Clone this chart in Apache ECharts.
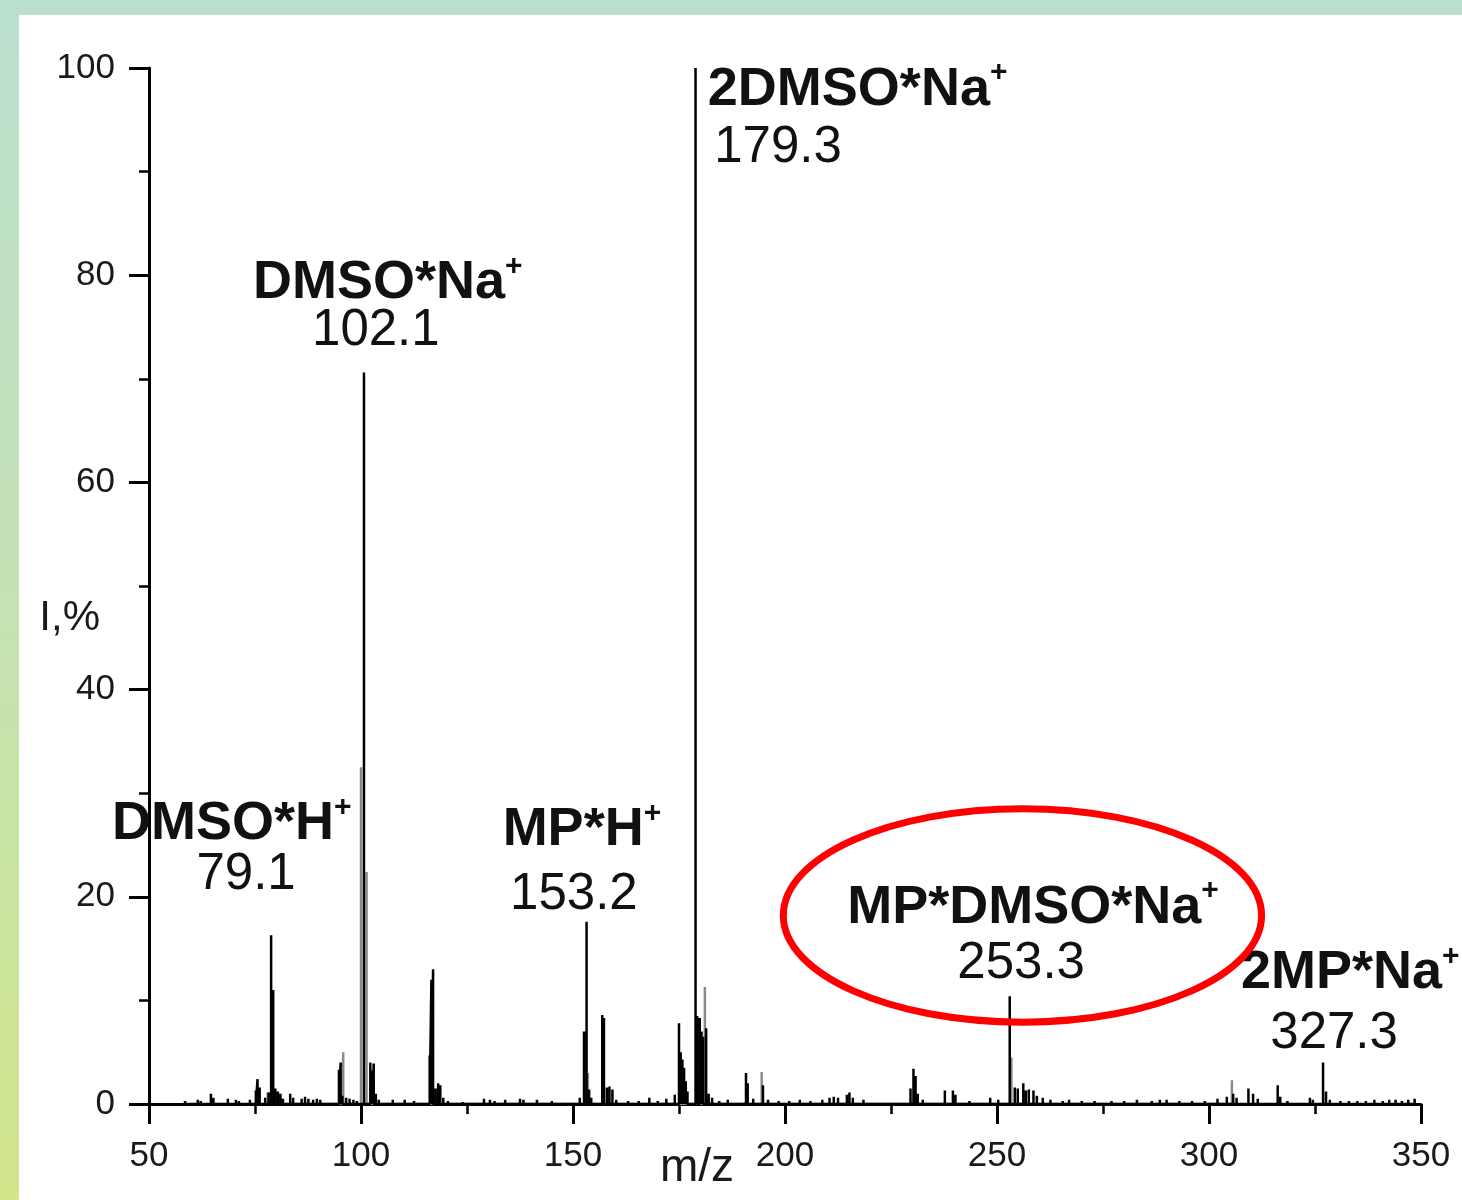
<!DOCTYPE html>
<html>
<head>
<meta charset="utf-8">
<script src="https://cdn.jsdelivr.net/npm/echarts@6/dist/echarts.min.js"></script>
<style>
  html, body {
    margin: 0;
    padding: 0;
    width: 1462px;
    height: 1200px;
    overflow: hidden;
    background: linear-gradient(to bottom, #bbdfcf 0%, #c4e2b4 50%, #d2e68b 100%);
  }
  #main {
    position: absolute;
    left: 19px;
    top: 15px;
    width: 1443px;
    height: 1185px;
    background: #fff;
  }
</style>
</head>
<body>
<div id="main"></div>
<script>
// black sticks [m/z, I %]
const blackPeaks = [
  [58.5, 0.3], [61.5, 0.4], [62.2, 0.3], [64.6, 1.0], [65.2, 0.6], [68.6, 0.5], [70.5, 0.4], [71.2, 0.3], [73.8, 0.4],
  [75.2, 1.3], [75.6, 2.4], [76.1, 1.6], [77.4, 0.6], [78.2, 1.1], [78.8, 16.3], [79.3, 11.0], [79.8, 1.5], [80.4, 1.2],
  [81.0, 1.0], [81.6, 0.5], [83.3, 1.0], [84.0, 0.6], [86.0, 0.5], [86.8, 0.7], [87.6, 0.5], [88.7, 0.4], [89.6, 0.5], [90.4, 0.4],
  [94.8, 3.3], [95.2, 4.0], [95.6, 0.8], [96.5, 0.6], [97.3, 0.5], [98.2, 0.4], [99.0, 0.3],
  [100.7, 70.6], [102.2, 4.0], [102.6, 3.2], [103.0, 3.9], [103.5, 1.0], [104.2, 0.4],
  [107.5, 0.4], [110.3, 0.4], [112.5, 0.3],
  [116.2, 4.7], [116.6, 12.0], [117.0, 13.0], [117.6, 1.5], [118.2, 2.0], [118.7, 1.8], [119.4, 0.6], [120.5, 0.3],
  [124.0, 0.2], [129.0, 0.5], [130.4, 0.4], [131.5, 0.3], [134.0, 0.4], [137.5, 0.5], [138.3, 0.4], [141.5, 0.4], [145.0, 0.3],
  [151.6, 0.6], [152.6, 7.0], [153.2, 17.6], [153.8, 1.4], [154.3, 0.6], [156.9, 8.6], [157.3, 8.3], [158.0, 1.6],
  [158.6, 1.7], [159.3, 1.4], [160.2, 0.4], [163.0, 0.3], [165.5, 0.3], [168.0, 0.6], [170.0, 0.3], [172.0, 0.5], [174.0, 0.9],
  [175.0, 7.8], [175.4, 5.0], [175.8, 4.3], [176.2, 3.5], [176.6, 2.2], [177.0, 1.2],
  [178.9, 100], [179.3, 8.5], [179.9, 8.3], [180.3, 7.0], [180.7, 6.5], [181.4, 7.3], [182.0, 1.0], [182.8, 0.6], [184.5, 0.3], [186.5, 0.4],
  [190.8, 3.0], [191.2, 2.0], [192.5, 0.5], [194.8, 1.8], [196.0, 0.4], [198.5, 0.3], [201.0, 0.3], [203.5, 0.4], [206.0, 0.3],
  [208.8, 0.4], [210.5, 0.6], [211.5, 0.7], [212.5, 0.6], [214.6, 0.9], [215.2, 1.1], [216.0, 0.6], [218.5, 0.4],
  [229.6, 1.5], [230.3, 3.4], [230.8, 2.7], [231.3, 1.0], [232.5, 0.4], [237.7, 1.3], [239.6, 1.3], [240.2, 0.9], [243.5, 0.3],
  [248.4, 0.6], [250.3, 0.4], [253.0, 10.4], [254.2, 1.6], [254.9, 1.5], [256.2, 2.0], [256.8, 1.3], [257.5, 1.4],
  [258.6, 1.3], [259.4, 0.8], [260.8, 0.6], [262.6, 0.4], [265.5, 0.3], [267.0, 0.4], [270.0, 0.3], [273.0, 0.3], [277.0, 0.3],
  [280.0, 0.3], [283.0, 0.4], [286.5, 0.3], [288.4, 0.4], [290.0, 0.4], [293.0, 0.3], [296.0, 0.3], [299.0, 0.3],
  [302.0, 0.5], [304.2, 0.7], [305.7, 1.0], [306.5, 0.6], [309.3, 1.5], [310.4, 1.0], [311.5, 0.5], [316.2, 1.8], [316.8, 0.7],
  [318.5, 0.3], [323.8, 0.6], [324.5, 0.4], [326.9, 4.0], [327.6, 1.2], [328.5, 0.4], [331.0, 0.3], [333.0, 0.3], [335.0, 0.3],
  [337.0, 0.3], [339.0, 0.4], [341.0, 0.3], [342.5, 0.4], [344.0, 0.4], [345.5, 0.3], [347.0, 0.4], [348.5, 0.5]
];
// grey sticks (second trace)
const greyPeaks = [
  [78.0, 1.1], [95.8, 5.0], [100.0, 32.5], [101.3, 22.4], [116.4, 3.8], [153.5, 3.0],
  [181.1, 11.3], [194.5, 3.1], [253.4, 4.5], [305.4, 2.3]
];

// peak annotations: ion names and m/z values, each with its own anchor (data units)
const ionNames = ['DMSO*H', 'DMSO*Na', '2DMSO*Na', 'MP*H', 'MP*DMSO*Na', '2MP*Na'];
const ionNamePos = [[69.5, 27.0], [106.3, 79.2], [181.8, 97.9], [152.1, 26.4], [258.5, 18.9], [333.3, 12.6]];
const ionValues = ['79.1', '102.1', '179.3', '153.2', '253.3', '327.3'];
const ionValuePos = [[72.9, 22.1], [103.5, 74.6], [183.3, 92.3], [150.2, 20.2], [255.7, 13.5], [329.5, 6.8]];
const ionAlign = ['center', 'center', 'left', 'center', 'center', 'center'];

// highlight ellipse (data units)
const ellipseCenter = [256.0, 18.2];
const ellipseRadii = [56.4, 10.3];

const xTicks = [50, 350, 50];
const yTicks = [0, 100, 20];

const FONT = '"Liberation Sans", Arial, sans-serif';

function sticks(list) {
  const out = [];
  list.slice().sort((a, b) => a[0] - b[0]).forEach((p) => {
    out.push([p[0], 0], [p[0], p[1]], [p[0], 0]);
  });
  return out;
}

const chart = echarts.init(document.getElementById('main'));

const nameData = ionNamePos.map((p, i) => ({
  value: p,
  label: { align: ionAlign[i], formatter: '{n|' + ionNames[i] + '}{s|+}' }
}));
const valueData = ionValuePos.map((p, i) => ({
  value: p,
  label: { align: ionAlign[i], formatter: ionValues[i] }
}));

chart.setOption({
  animation: false,
  grid: { left: 130, right: 41, top: 53, bottom: 96, outerBoundsMode: 'none', containLabel: false },
  xAxis: {
    type: 'value',
    min: xTicks[0], max: xTicks[1], interval: xTicks[2],
    name: 'm/z',
    nameLocation: 'middle',
    nameGap: 41,
    nameMoveOverlap: false,
    nameTextStyle: { fontFamily: FONT, fontSize: 46, color: '#1a1a1a', padding: [0, 176, 0, 0] },
    axisLine: { lineStyle: { color: '#000', width: 3 } },
    axisTick: { show: true, inside: false, length: 20, lineStyle: { color: '#000', width: 3 } },
    minorTick: { show: true, splitNumber: 2, length: 10, lineStyle: { color: '#000', width: 2.5 } },
    axisLabel: { fontFamily: FONT, fontSize: 35, color: '#1a1a1a', margin: 35 },
    splitLine: { show: false }
  },
  yAxis: {
    type: 'value',
    min: yTicks[0], max: yTicks[1], interval: yTicks[2],
    name: '\nI,%',
    nameLocation: 'middle',
    nameRotate: 0,
    nameGap: 49,
    nameMoveOverlap: false,
    nameTextStyle: { fontFamily: FONT, fontSize: 42, lineHeight: 64, color: '#1a1a1a' },
    axisLine: { show: true, lineStyle: { color: '#000', width: 3 } },
    axisTick: { show: true, inside: false, length: 20, lineStyle: { color: '#000', width: 3 } },
    minorTick: { show: true, splitNumber: 2, length: 10, lineStyle: { color: '#000', width: 2.5 } },
    axisLabel: { fontFamily: FONT, fontSize: 35, color: '#1a1a1a', margin: 34 },
    splitLine: { show: false }
  },
  series: [
    {
      type: 'line',
      data: sticks(greyPeaks),
      symbol: 'none',
      lineStyle: { color: '#8a8a8a', width: 2.5 },
      z: 2
    },
    {
      type: 'line',
      data: sticks(blackPeaks),
      symbol: 'none',
      lineStyle: { color: '#000', width: 2.5 },
      z: 3
    },
    {
      type: 'scatter',
      data: nameData,
      symbol: 'circle',
      symbolSize: 0,
      itemStyle: { color: '#000', opacity: 1 },
      z: 5,
      label: {
        show: true,
        position: 'inside',
        color: '#111',
        opacity: 1,
        rich: {
          n: { fontFamily: FONT, fontSize: 54, fontWeight: 'bold', lineHeight: 64, color: '#111' },
          s: { fontFamily: FONT, fontSize: 30, fontWeight: 'bold', lineHeight: 10, verticalAlign: 'top', color: '#111' }
        }
      }
    },
    {
      type: 'scatter',
      data: valueData,
      symbol: 'circle',
      symbolSize: 0,
      itemStyle: { color: '#000', opacity: 1 },
      z: 5,
      label: {
        show: true,
        position: 'inside',
        color: '#111',
        opacity: 1,
        fontFamily: FONT,
        fontSize: 51,
        lineHeight: 52
      }
    }
  ]
});

const c = chart.convertToPixel({ gridIndex: 0 }, ellipseCenter);
const e = chart.convertToPixel({ gridIndex: 0 }, [ellipseCenter[0] + ellipseRadii[0], ellipseCenter[1] + ellipseRadii[1]]);
chart.setOption({
  graphic: [{
    type: 'ellipse',
    shape: { cx: c[0], cy: c[1], rx: Math.abs(e[0] - c[0]), ry: Math.abs(c[1] - e[1]) },
    style: { fill: 'none', stroke: '#ff0000', lineWidth: 7 },
    z: 10
  }]
});
</script>
</body>
</html>
